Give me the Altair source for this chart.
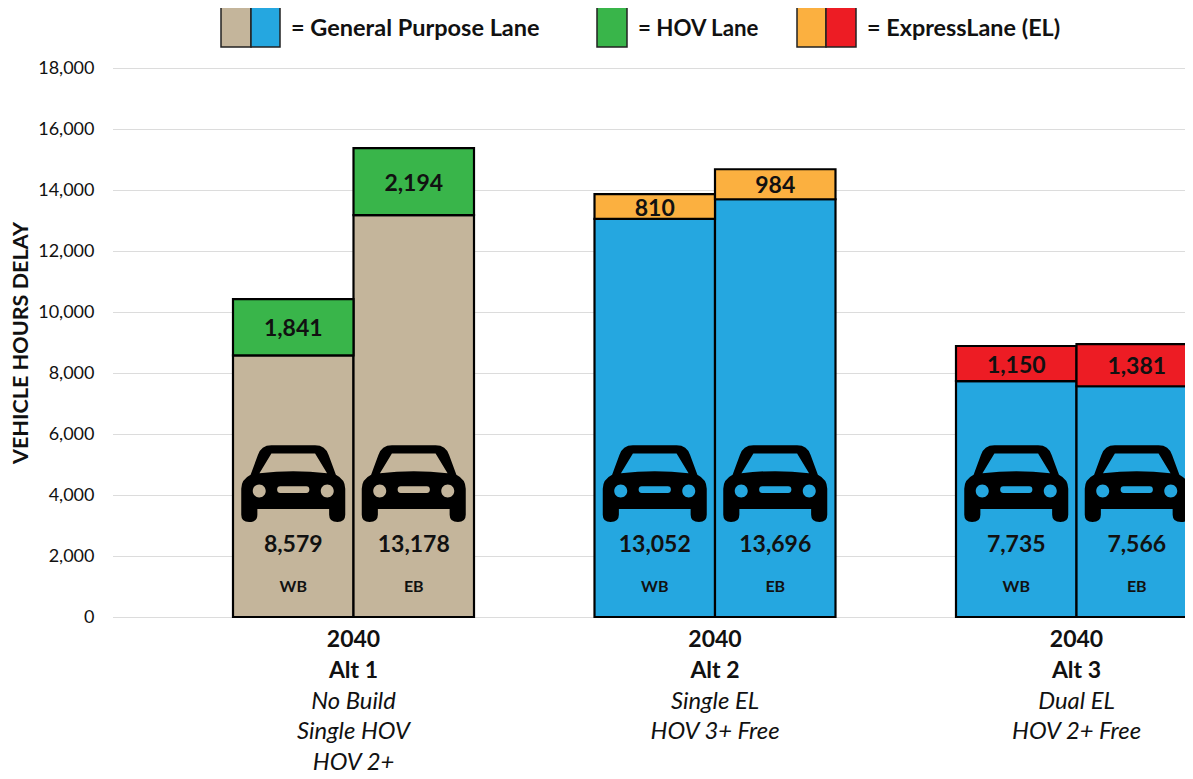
import altair as alt
import pandas as pd

bars = ["A1 WB", "A1 EB", "A2 WB", "A2 EB", "A3 WB", "A3 EB"]
slots = ["pad0", "A1 WB", "A1 EB", "pad1", "A2 WB", "A2 EB", "pad2", "A3 WB", "A3 EB"]
direction = ["WB", "EB", "WB", "EB", "WB", "EB"]
general_purpose = [8579, 13178, 13052, 13696, 7735, 7566]
managed = [1841, 2194, 810, 984, 1150, 1381]
gp_colors = ["#C4B59B", "#C4B59B", "#25A7E0", "#25A7E0", "#25A7E0", "#25A7E0"]
managed_colors = ["#39B54A", "#39B54A", "#FBB040", "#FBB040", "#ED1C24", "#ED1C24"]
group_anchor = ["A1 EB", "A2 EB", "A3 EB"]
line_2040 = ["2040", "2040", "2040"]
line_alt = ["Alt 1", "Alt 2", "Alt 3"]
line_desc1 = ["No Build", "Single EL", "Dual EL"]
line_desc2 = ["Single HOV", "HOV 3+ Free", "HOV 2+ Free"]
line_desc3 = ["HOV 2+", "", ""]

FONT = "Lato"
CAR = (
    "M -0.42 -0.74 L 0.42 -0.74 Q 0.62 -0.74 0.68 -0.55 L 0.82 -0.17 Q 1 -0.08 1 0.1 "
    "L 1 0.6 Q 1 0.74 0.85 0.74 Q 0.69 0.74 0.69 0.6 L 0.69 0.49 L -0.69 0.49 L -0.69 0.6 "
    "Q -0.69 0.74 -0.85 0.74 Q -1 0.74 -1 0.6 L -1 0.1 Q -1 -0.08 -0.82 -0.17 L -0.68 -0.55 "
    "Q -0.62 -0.74 -0.42 -0.74 Z "
    "M -0.42 -0.58 L -0.65 -0.2 Q 0 -0.28 0.65 -0.2 L 0.42 -0.58 Z "
    "M -0.779 0.14 A 0.125 0.125 0 1 0 -0.529 0.14 A 0.125 0.125 0 1 0 -0.779 0.14 Z "
    "M 0.529 0.14 A 0.125 0.125 0 1 0 0.779 0.14 A 0.125 0.125 0 1 0 0.529 0.14 Z "
    "M -0.25 0.05 Q -0.31 0.05 -0.31 0.115 Q -0.31 0.18 -0.25 0.18 L 0.25 0.18 "
    "Q 0.31 0.18 0.31 0.115 Q 0.31 0.05 0.25 0.05 Z"
)

x_scale = alt.Scale(domain=slots, range=[1.5, 1086], paddingInner=0, paddingOuter=0)
y_scale = alt.Scale(domain=[0, 18000], nice=False)

df = pd.DataFrame({
    "bar": bars, "dir": direction, "gp": general_purpose, "top": managed,
    "gpc": gp_colors, "topc": managed_colors,
})
df["gp_label"] = df["gp"].map("{:,}".format)
df["top_label"] = df["top"].map("{:,}".format)
df["total"] = df["gp"] + df["top"]
df["mid"] = df["gp"] + df["top"] / 2
df["car_y"] = 4373
df["val_y"] = 2360
df["dir_y"] = 980

X = alt.X("bar:N", scale=x_scale, axis=None)

base = alt.Chart(df)

grid = base.mark_bar(opacity=0).encode(
    x=X,
    y=alt.Y("total:Q", scale=y_scale, axis=alt.Axis(
        values=list(range(0, 18001, 2000)), format=",.0f", grid=True, gridColor="#DCDCDC",
        gridWidth=1.2, ticks=False, domain=False, labelFont=FONT, labelFontSize=18,
        labelColor="#111", labelPadding=17, title="VEHICLE HOURS DELAY", titleFont=FONT,
        titleFontSize=21.6, titleFontWeight="bold", titleColor="#111", titleX=-79,
    )),
)

lower = base.mark_bar(stroke="black", strokeWidth=2.2).encode(
    x=X, y=alt.Y("gp:Q", scale=y_scale), color=alt.Color("gpc:N", scale=None),
)
upper = base.mark_bar(stroke="black", strokeWidth=2.2).encode(
    x=X, y=alt.Y("gp:Q", scale=y_scale), y2="total:Q", color=alt.Color("topc:N", scale=None),
)

cars = base.mark_point(shape=CAR, size=10816, filled=True, fill="black", opacity=1, strokeWidth=0).encode(
    x=X, y=alt.Y("car_y:Q", scale=y_scale),
)
gp_text = base.mark_text(font=FONT, fontSize=23, fontWeight="bold", color="#111").encode(
    x=X, y=alt.Y("val_y:Q", scale=y_scale), text="gp_label:N",
)
dir_text = base.mark_text(font=FONT, fontSize=16, fontWeight="bold", color="#111").encode(
    x=X, y=alt.Y("dir_y:Q", scale=y_scale), text="dir:N",
)
top_text = base.mark_text(font=FONT, fontSize=23, fontWeight="bold", color="#111", dy=2).encode(
    x=X, y=alt.Y("mid:Q", scale=y_scale), text="top_label:N",
)

cat_df = pd.DataFrame({"bar": group_anchor, "l0": line_2040, "l1": line_alt,
                       "l2": line_desc1, "l3": line_desc2, "l4": line_desc3})
X_edge = alt.X("bar:N", scale=x_scale, axis=None, bandPosition=0)
cat_layers = []
for i, (field, weight, style, size) in enumerate([("l0", "bold", "normal", 23), ("l1", "bold", "normal", 23),
                                                  ("l2", "normal", "italic", 23.8), ("l3", "normal", "italic", 23.8),
                                                  ("l4", "normal", "italic", 23.8)]):
    cat_layers.append(
        alt.Chart(cat_df).mark_text(font=FONT, fontSize=size, fontWeight=weight, fontStyle=style, color="#111").encode(
            x=X_edge, y=alt.value(572 + 30.8 * i), text=f"{field}:N",
        )
    )

# legend
swatches = [(110, 140, "#C4B59B"), (140, 169, "#25A7E0"), (486, 516, "#39B54A"),
            (686, 715, "#FBB040"), (715, 745, "#ED1C24")]
legend_layers = []
for x0, x1, c in swatches:
    legend_layers.append(
        alt.Chart(pd.DataFrame({"a": [0]})).mark_rect(fill=c, stroke="#222", strokeWidth=1.5).encode(
            x=alt.value(x0), x2=alt.value(x1), y=alt.value(-61), y2=alt.value(-21),
        )
    )
for x0, label, size in [(180, "= General Purpose Lane", 23.5), (527, "= HOV Lane", 22.3),
                        (756, "= ExpressLane (EL)", 23.4)]:
    legend_layers.append(
        alt.Chart(pd.DataFrame({"a": [0]})).mark_text(
            text=label, font=FONT, fontSize=size, fontWeight="bold", align="left", color="#111",
        ).encode(x=alt.value(x0), y=alt.value(-39))
    )

chart = alt.layer(grid, lower, upper, cars, gp_text, dir_text, top_text, *cat_layers, *legend_layers).properties(
    width=1074, height=549,
    autosize=alt.AutoSizeParams(type="none"),
    padding={"left": 103, "top": 60, "right": 0, "bottom": 158},
).configure_view(strokeWidth=0)

chart.save("out.html", embed_options={"renderer": "svg", "actions": False})
